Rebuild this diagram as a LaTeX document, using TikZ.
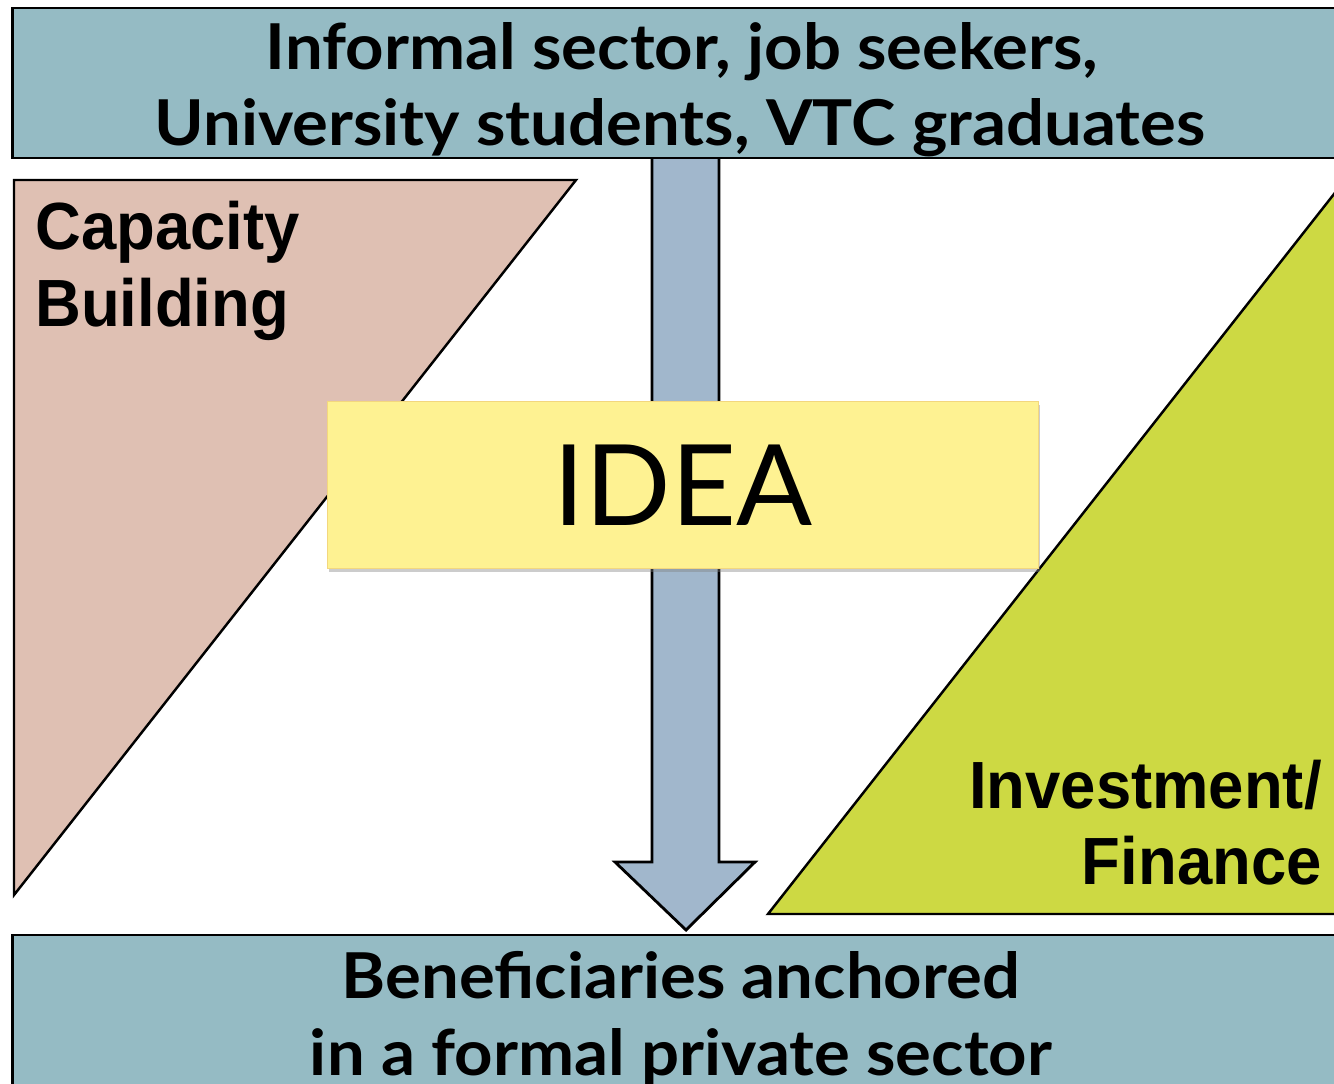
\documentclass[tikz,border=0pt]{standalone}
\usepackage{fontspec}
\newfontfamily\gillfont[BoldFeatures={FakeStretch=1.06}]{Lato}
\newfontfamily\arialfont[FakeStretch=0.95]{Liberation Sans}
\usepackage{tikz}
\usetikzlibrary{positioning}
\usetikzlibrary{calc}
\usetikzlibrary{shadows}
\usepackage{xcolor}
\definecolor{bandblue}{HTML}{95BBC4}
\definecolor{arrowblue}{HTML}{A1B7CC}
\definecolor{capapink}{HTML}{DFC0B3}
\definecolor{financegreen}{HTML}{CDD943}
\definecolor{ideayellow}{HTML}{FEF292}
\definecolor{ideaborder}{HTML}{F3D77E}

\begin{document}
\begin{tikzpicture}[x=0.02cm, y=-0.02cm,
	band/.style={rectangle, draw=black, line width=1.6pt, fill=bandblue, inner sep=0pt, minimum width=26.72cm},
	bandtext/.style={anchor=base, inner sep=0pt, font=\gillfont\bfseries\fontsize{36}{43}\selectfont},
	wedge/.style={draw=black, line width=1.4pt},
	wedgetext/.style={inner sep=0pt, font=\arialfont\bfseries\fontsize{38}{45}\selectfont}]
	\useasboundingbox (0,0) rectangle (1334,1084);
	\clip (0,0) rectangle (1334,1084);
	% wedges
	\draw[wedge, fill=capapink] (14,180) -- (576,180) -- (14,895) -- cycle;
	\draw[wedge, fill=financegreen] (768,914) -- (1345,914) -- (1345,180) -- cycle;
	% block arrow
	\coordinate (tail) at (686,150);
	\coordinate (tip) at (686,930);
	\draw[line width=1.6pt, fill=arrowblue, line join=miter]
		($(tail)+(-34,0)$) -- ($(tip)+(-34,-68)$) -- ($(tip)+(-71,-68)$) -- (tip)
		-- ($(tip)+(69,-68)$) -- ($(tip)+(33,-68)$) -- ($(tail)+(33,0)$) -- cycle;
	% bands
	\node[band, minimum height=3cm] (top) at (680,83) {};
	\node[band, minimum height=3.4cm] (bottom) at (680,1020) {};
	\node[bandtext] (top1) at (682,70) {Informal sector, job seekers,};
	\node[bandtext] (top2) at (680,146) {University students, VTC graduates};
	\node[bandtext] (bottom1) at (681,998) {Beneficiaries anchored};
	\node[bandtext] (bottom2) at (681,1075) {in a formal private sector};
	% wedge labels
	\node[wedgetext, anchor=base west] (cap1) at (35,250) {Capacity};
	\node[wedgetext, anchor=base west] (cap2) at (35,326) {Building};
	\node[wedgetext, anchor=base east] (inv1) at (1322,808) {Investment/};
	\node[wedgetext, anchor=base east] (inv2) at (1322,884) {Finance};
	% idea
	\node[draw=ideaborder, line width=0.8pt, fill=ideayellow,
		drop shadow={opacity=0.4, shadow xshift=1pt, shadow yshift=-2pt},
		minimum width=14.22cm, minimum height=3.34cm, font=\gillfont\fontsize{64}{70}\selectfont] (idea) at (683,485) {IDEA};
\end{tikzpicture}
\end{document}
